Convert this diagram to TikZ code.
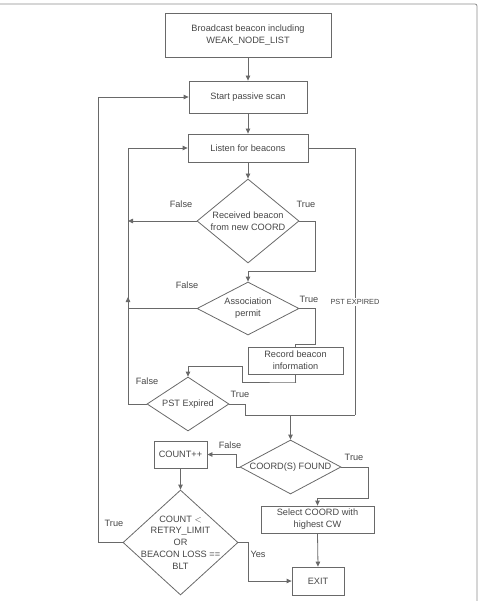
\documentclass[tikz,border=0pt]{standalone}
\usepackage{fontspec}
\setmainfont{Liberation Sans}
\usetikzlibrary{shapes.geometric,arrows.meta}
\definecolor{lc}{RGB}{105,105,105}
\definecolor{tc}{RGB}{70,70,70}
\definecolor{fc}{RGB}{140,140,140}
\begin{document}
\begin{tikzpicture}[x=1pt,y=-1pt,
  every node/.style={text=tc,font=\fontsize{9.2}{11.8}\selectfont},
  box/.style={draw=lc,line width=0.8pt,rectangle,inner sep=0pt,align=center},
  dia/.style={draw=lc,line width=0.8pt,diamond,inner sep=0pt},
  lab/.style={inner sep=0pt},
  conn/.style={draw=lc,line width=0.8pt},
  arr/.style={conn,-{Triangle[length=5pt,width=4.5pt]}}]
\useasboundingbox (0,0) rectangle (482,601);
\draw[fc,line width=0.8pt,rounded corners=2pt] (0,4) -- (477,4) -- (477,601);
% boxes
\node[box,minimum width=166,minimum height=44] (bc) at (248,35) {Broadcast beacon including\\WEAK\_NODE\_LIST};
\node[box,minimum width=118,minimum height=32] (start) at (248,97) {Start passive scan};
\node[box,minimum width=120,minimum height=28] (listen) at (248,148) {Listen for beacons};
\node[dia,minimum width=102,minimum height=84,label={[align=center,lab]center:Received beacon\\from new COORD}] (d1) at (248,221) {};
\node[dia,minimum width=102,minimum height=53,label={[align=center,lab]center:Association\\permit}] (d2) at (248,308.5) {};
\node[box,minimum width=95,minimum height=27] (rec) at (295.5,360.5) {Record beacon\\information};
\node[dia,minimum width=82,minimum height=54,label={[lab]center:PST Expired}] (pst) at (188,404) {};
\node[dia,minimum width=101,minimum height=54,label={[lab]center:COORD(S) FOUND}] (coord) at (290.5,467) {};
\node[box,minimum width=53,minimum height=27] (cnt) at (180.5,454.5) {COUNT++};
\node[dia,minimum width=115,minimum height=105,label={[align=center,lab]center:COUNT $<$\\RETRY\_LIMIT\\OR\\BEACON LOSS ==\\BLT}] (d3) at (180.5,542.5) {};
\node[box,minimum width=113,minimum height=27] (sel) at (317.5,519.5) {Select COORD with\\highest CW};
\node[box,minimum width=52,minimum height=28] (exit) at (318,581) {EXIT};
% coordinates
\coordinate (j1) at (128,221);
\coordinate (j2) at (128,308.5);
\coordinate (j2a) at (128,297);
\coordinate (jp) at (128,404);
\coordinate (t1) at (315,271);
\coordinate (t2) at (315,344);
\coordinate (r1) at (296,382);
\coordinate (r2) at (242,366);
\coordinate (m1) at (245,415);
\coordinate (m2) at (355,415);
\coordinate (m3) at (290.5,415);
\coordinate (c1) at (236,467);
\coordinate (c2) at (368,498);
\coordinate (k1) at (98,542.5);
\coordinate (k2) at (248,581);
% connectors
\draw[arr] (bc.south) -- (start.north);
\draw[arr] (start.south) -- (listen.north);
\draw[arr] (listen.south) -- (d1.north);
\draw[arr] (d1.west) -- (j1);
\draw[arr] (d1.east) -| (t1) -| (d2.north);
\draw[conn] (d2.west) -- (j2);
\draw[arr] (j2) -- (j2a);
\draw[arr] (pst.west) -- (jp) |- (listen.west);
\draw[conn] (d2.east) -| (t2) -| (rec.north);
\draw[arr] (rec.south) |- (r1) -| (r2) -| (pst.north);
\draw[conn] (listen.east) -| (m2);
\draw[conn] (pst.east) -| (m1) -- (m2);
\draw[arr] (m3) -- (coord.north);
\draw[arr] (coord.west) -- (c1) |- (cnt.east);
\draw[arr] (coord.east) -| (c2) -| (sel.north);
\draw[arr] (cnt.south) -- (d3.north);
\draw[arr] (d3.west) -- (k1) |- (start.west);
\draw[arr] (d3.east) -| (k2) -- (exit.west);
\draw[arr] (sel.south) -- (exit.north);
% labels
\node[lab] (l1) at (181,204) {False};
\node[lab] (l2) at (306,204) {True};
\node[lab] (l3) at (187,285) {False};
\node[lab] (l4) at (309,299) {True};
\node[lab,fill=white,inner sep=1pt,font=\fontsize{7.4}{8}\selectfont] (l5) at (355,302) {PST EXPIRED};
\node[lab] (l6) at (147,381) {False};
\node[lab] (l7) at (240,394) {True};
\node[lab] (l8) at (230,445) {False};
\node[lab] (l9) at (354,457) {True};
\node[lab] (l10) at (114,523) {True};
\node[lab] (l11) at (258,554) {Yes};
\end{tikzpicture}
\end{document}
